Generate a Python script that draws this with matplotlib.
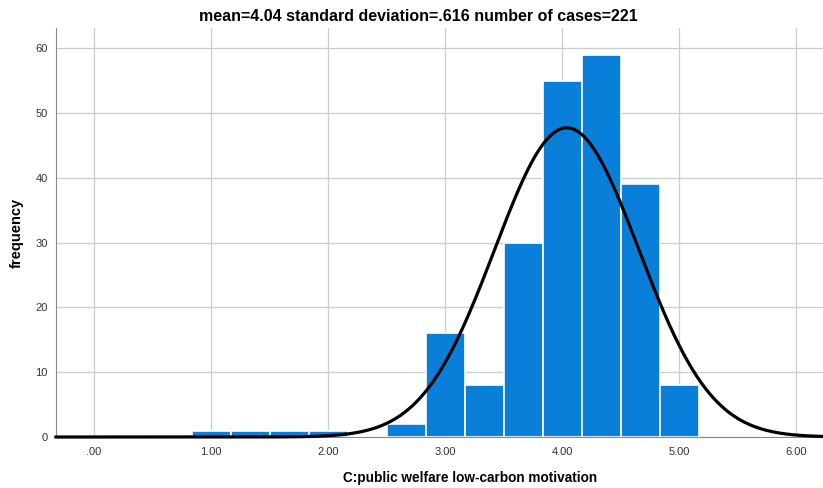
import numpy as np
import matplotlib.pyplot as plt

plt.rcParams['font.family'] = ['Liberation Sans', 'DejaVu Sans']

# histogram bins (width 1/3) and their counts
bin_left = [5/6, 7/6, 3/2, 11/6, 13/6, 5/2, 17/6, 19/6, 7/2, 23/6, 25/6, 9/2, 29/6]
counts = [1, 1, 1, 1, 0, 2, 16, 8, 30, 55, 59, 39, 8]
bin_width = 1/3

mean = 4.04
sd = 0.616
n_cases = 221

xticks = [0, 1, 2, 3, 4, 5, 6]
xtick_labels = ['.00', '1.00', '2.00', '3.00', '4.00', '5.00', '6.00']
yticks = [0, 10, 20, 30, 40, 50, 60]

x_lo, x_hi = -0.325, 6.23

fig = plt.figure(figsize=(8.23, 4.88), dpi=100)
ax = fig.add_axes([0.068, 0.1045, 0.932, 0.838])

ax.bar(bin_left, counts, width=bin_width, align='edge', color='#0A7FDA',
       edgecolor='white', linewidth=1.2, zorder=2)

# fitted normal curve scaled to counts
xs = np.linspace(x_lo, x_hi, 500)
ys = n_cases * bin_width / (sd * np.sqrt(2 * np.pi)) * np.exp(-0.5 * ((xs - mean) / sd) ** 2)
ax.plot(xs, ys, color='black', linewidth=2.3, zorder=3, clip_on=False)

ax.set_xlim(x_lo, x_hi)
ax.set_ylim(0, 63.1)
ax.set_xticks(xticks)
ax.set_xticklabels(xtick_labels)
ax.set_yticks(yticks)
ax.grid(True, color='#cccccc', linewidth=0.9, zorder=0)
ax.set_axisbelow(True)

for s in ['top', 'right']:
    ax.spines[s].set_visible(False)
ax.spines['left'].set_color('#888888')
ax.spines['bottom'].set_color('#888888')
ax.tick_params(length=0, labelsize=8, labelcolor='#333333', pad=7)
ax.tick_params(axis='y', pad=6)

ax.set_title('mean=%.2f standard deviation=.%d number of cases=%d' % (mean, round(sd * 1000), n_cases),
             fontsize=11.5, fontweight='bold', pad=5, x=0.473)
ax.set_xlabel('C:public welfare low-carbon motivation', fontsize=9.8, fontweight='bold', va='center')
ax.xaxis.set_label_coords(0.54, -0.1)
ax.set_ylabel('frequency', fontsize=10.5, fontweight='bold', labelpad=8)

plt.savefig('out.png')
